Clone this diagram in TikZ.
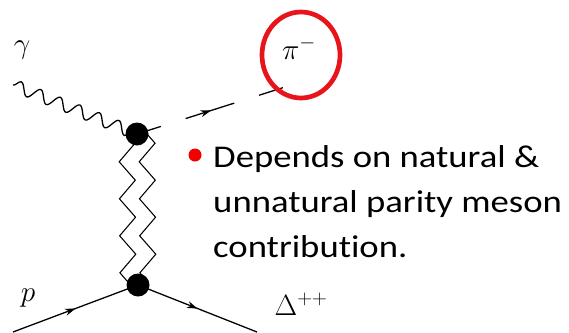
\RequirePackage{fix-cm}
\documentclass[tikz,border=0pt]{standalone}
\usepackage{fontspec}
\newfontfamily\slidefont[FakeStretch=1.16, Ligatures=NoCommon]{Carlito}
\usepackage{tikz}
\usetikzlibrary{arrows.meta,decorations.pathmorphing,decorations.markings,backgrounds}
\definecolor{ringred}{HTML}{E8141B}
\definecolor{bulletred}{HTML}{F20000}
\tikzset{
  vertexdot/.style = {circle, fill=black, minimum size=0.69cm, inner sep=0pt},
  photon/.style    = {decorate, decoration={snake, segment length=0.63cm, amplitude=0.18cm},
                      line width=1.1pt},
  fermion/.style   = {line width=1.1pt, postaction={decorate},
                      decoration={markings, mark=at position 0.5 with
                        {\arrow{Stealth[length=9pt,width=6pt]}}}},
  meson/.style     = {fermion, dash pattern=on 0.75cm off 0.78cm on 1.53cm off 0.78cm},
  reggeon/.style   = {decorate, decoration={zigzag, segment length=1.11cm, amplitude=0.24cm},
                      line width=0.9pt},
  plabel/.style    = {font=\fontsize{25}{27}\selectfont, inner sep=0pt},
  ringmark/.style  = {draw=ringred, line width=4pt},
  bulletdot/.style = {circle, fill=bulletred, minimum size=0.39cm, inner sep=0pt},
  bodytext/.style  = {font=\slidefont\fontsize{27}{38.4}\selectfont, align=left,
                      inner sep=0pt, anchor=base west},
}
\begin{document}
\begin{tikzpicture}[x=0.03cm, y=-0.03cm]
\useasboundingbox (0,0) rectangle (569,332);
% vertices
\node[vertexdot] (vtop) at (137,134) {};
\node[vertexdot] (vbot) at (138,285) {};
% free ends
\coordinate (gin)   at (13,85);
\coordinate (pin)   at (13,332);
\coordinate (piout) at (285,87);
\coordinate (dout)  at (257,332);

\begin{scope}[on background layer]
\draw[photon]  (gin) -- (vtop.center);
\draw[meson]   (vtop.center) -- (piout);
\draw[fermion] (pin) -- (vbot.center);
\draw[fermion] (vbot.center) -- (dout);
% exchange: two zigzags
\draw[reggeon] ([xshift=-0.3cm]vtop.center) -- ([xshift=-0.3cm]vbot.center);
\draw[reggeon] ([xshift=0.3cm]vtop.center) -- ([xshift=0.3cm]vbot.center);
\end{scope}

% particle labels
\node[plabel] (gamma) at (22,50)  {$\gamma$};
\node[plabel] (pim)   at (299,48) {$\pi^-$};
\node[plabel] (prot)  at (28,298) {$p$};
\node[plabel] (delta) at (301,304) {$\Delta^{++}$};
\draw[ringmark] (301,55) ellipse [x radius=1.17cm, y radius=1.29cm];

% bullet text
\node[bulletdot] (dot) at (195,155) {};
\node[bodytext] (txt) at (213,257) {Depends on natural \&\\unnatural parity meson\\contribution.};
\end{tikzpicture}
\end{document}
